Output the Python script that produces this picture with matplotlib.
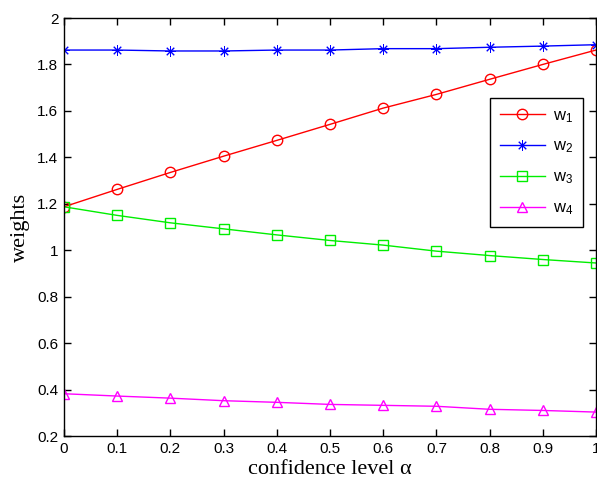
import matplotlib
matplotlib.use("Agg")
import matplotlib.pyplot as plt
from matplotlib.ticker import FixedLocator

alpha = [0, 0.1, 0.2, 0.3, 0.4, 0.5, 0.6, 0.7, 0.8, 0.9, 1.0]
w1 = [1.187, 1.262, 1.335, 1.405, 1.473, 1.542, 1.612, 1.671, 1.736, 1.800, 1.862]
w2 = [1.862, 1.862, 1.858, 1.858, 1.862, 1.862, 1.868, 1.868, 1.874, 1.879, 1.885]
w3 = [1.187, 1.150, 1.118, 1.092, 1.066, 1.042, 1.022, 0.996, 0.977, 0.960, 0.945]
w4 = [0.382, 0.372, 0.363, 0.352, 0.345, 0.336, 0.332, 0.328, 0.315, 0.310, 0.303]

xticks = [0, 0.1, 0.2, 0.3, 0.4, 0.5, 0.6, 0.7, 0.8, 0.9, 1]
xticklabels = ["0", "0.1", "0.2", "0.3", "0.4", "0.5", "0.6", "0.7", "0.8", "0.9", "1"]
yticks = [0.2, 0.4, 0.6, 0.8, 1.0, 1.2, 1.4, 1.6, 1.8, 2.0]
yticklabels = ["0.2", "0.4", "0.6", "0.8", "1", "1.2", "1.4", "1.6", "1.8", "2"]
labels = ["w$_1$", "w$_2$", "w$_3$", "w$_4$"]

plt.rcParams['font.family'] = ['Liberation Sans', 'DejaVu Sans']
plt.rcParams['mathtext.fontset'] = 'custom'
plt.rcParams['mathtext.rm'] = 'Liberation Sans'
plt.rcParams['mathtext.it'] = 'Liberation Sans'

fig = plt.figure(figsize=(5.97, 4.84), dpi=100)
ax = fig.add_axes([64/597, 1-436/484, (596-64)/597, (436-18)/484])

ms = 7.5
ax.plot(alpha, w1, color='#ff0000', marker='o', mfc='none', ms=ms, lw=1, label=labels[0])
ax.plot(alpha, w2, color='#0000ff', marker=(8, 2, 0), mfc='none', ms=ms, lw=1, mew=0.7, label=labels[1])
ax.plot(alpha, w3, color='#00ee00', marker='s', mfc='none', ms=ms, lw=1, label=labels[2])
ax.plot(alpha, w4, color='#ff00ff', marker='^', mfc='none', ms=ms, lw=1, label=labels[3])

ax.set_xlim(0, 1)
ax.set_ylim(0.2, 2)
ax.xaxis.set_major_locator(FixedLocator(xticks))
ax.set_xticklabels(xticklabels)
ax.yaxis.set_major_locator(FixedLocator(yticks))
ax.set_yticklabels(yticklabels)
ax.tick_params(direction='in', top=True, right=True, length=5, width=1, labelsize=11, pad=4)
for s in ax.spines.values():
    s.set_linewidth(1)

ax.set_xlabel("confidence level α", family=['Liberation Serif', 'DejaVu Serif'], fontsize=16, labelpad=3)
ax.set_ylabel("weights", family=['Liberation Serif', 'DejaVu Serif'], fontsize=16, labelpad=5)

leg = ax.legend(loc='upper left', bbox_to_anchor=(0.80, 0.809), borderaxespad=0, fontsize=12,
                fancybox=False, edgecolor='black', framealpha=1, borderpad=0.6, labelspacing=0.85,
                handlelength=2.7, handletextpad=0.5)
leg.get_frame().set_linewidth(1)

fig.savefig("out.png", dpi=100)
